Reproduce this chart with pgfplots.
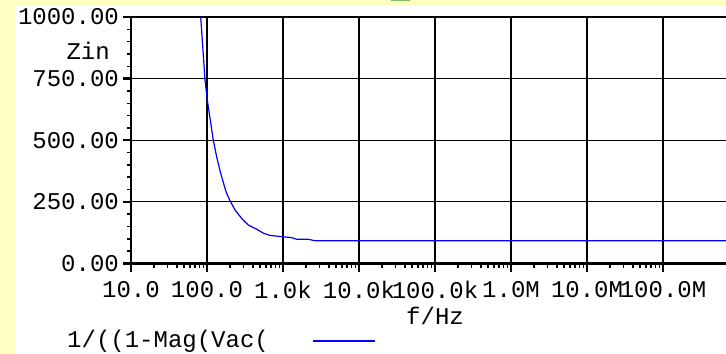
\documentclass[border=0pt]{standalone}
\usepackage{fontspec}
\setmainfont{Liberation Mono}
\usepackage{pgfplots}
\pgfplotsset{compat=1.18}
\definecolor{bgyellow}{HTML}{FFFFC4}
\definecolor{tabgreen}{HTML}{80C060}
\begin{document}
\fontsize{24bp}{28bp}\selectfont
\begin{tikzpicture}[font=\fontsize{24bp}{28bp}\selectfont]
\path[use as bounding box] (0,0) rectangle (726bp,354bp);
\clip (0,0) rectangle (726bp,354bp);
\fill[bgyellow] (0,0) rectangle (726bp,354bp);
\fill[white] (15bp,0) rectangle (726bp,348.5bp);
\fill[tabgreen] (391bp,352.5bp) rectangle (410bp,354bp);
\begin{axis}[
  at={(131bp,90.5bp)}, anchor=south west,
  scale only axis, width=608bp, height=246.5bp,
  xmode=log, xmin=10, xmax=1e9, ymin=0, ymax=1000,
  /pgf/number format/assume math mode=true,
  xtick={10,100,1000,10000,100000,1000000,10000000,100000000},
  xticklabels={10.0,100.0,1.0k,10.0k,100.0k,1.0M,10.0M,100.0M},
  ytick={0,250,500,750,1000},
  yticklabels={0.00,250.00,500.00,750.00,1000.00},
  minor y tick num=4,
  tick align=outside,
  major tick length=8bp, minor tick length=4bp,
  every major tick/.style={line width=2.5bp, black},
  every minor tick/.style={line width=1.5bp, black},
  xtick pos=bottom, ytick pos=left,
  grid=major,
  major grid style={line width=1.2bp, black},
  axis line style={line width=2.5bp, black},
  xticklabel style={anchor=north, inner sep=0pt, yshift=-9.5bp, font=\fontsize{24bp}{28bp}\selectfont},
  yticklabel style={anchor=east, inner sep=0pt, xshift=-4bp, font=\fontsize{24bp}{28bp}\selectfont},
  xlabel={f/Hz},
  xlabel style={inner sep=0pt, yshift=-8bp, font=\fontsize{24bp}{28bp}\selectfont},
  legend plot pos=right,
  legend style={draw=none, fill=none, at={(-0.1085,-0.314)}, anchor=west, inner sep=0pt,
    font=\fontsize{24bp}{28bp}\selectfont, /tikz/every odd column/.style={column sep=42bp}},
  legend image code/.code={\draw[#1] (0bp,0bp) -- (62bp,0bp);},
]
\addplot[color=blue, line width=1.2bp] coordinates {
(82.6,1000) (94.2,744) (100.9,663) (121,501) (134,433) (151,367) (178,291)
(201,254) (234,217) (286,183) (349,156) (451,139) (551,123) (675,114)
(961,109) (1301,105) (1514,98) (2153,98) (2637,92.5) (1e9,92.5)
};
\addlegendentry{1/((1-Mag(Vac(}
\end{axis}
\node[anchor=east, inner sep=0pt] at (110bp,303bp) {Zin};
\end{tikzpicture}
\end{document}
